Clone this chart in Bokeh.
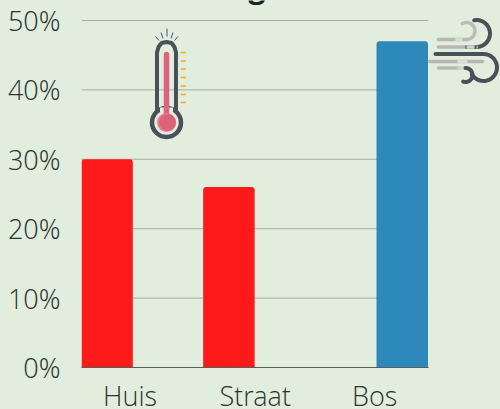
from bokeh.plotting import figure
from bokeh.embed import file_html
from bokeh.resources import INLINE
from bokeh.models import FixedTicker, ColumnDataSource, Range1d
from bokeh.transform import dodge
from bokeh.core.properties import value
import numpy as np

categories = ["Huis", "Straat", "Bos"]
label_positions = [-0.022, 1.005, 1.985]
red_values = [30, 26, None]
blue_values = [None, None, 47]
y_ticks = [0, 10, 20, 30, 40, 50]
y_labels = ["0%", "10%", "20%", "30%", "40%", "50%"]

BG = "#e1eedd"
RED = "#ff1a1a"
BLUE = "#2d89b9"
DARK = "#4a5058"
FONT = "Open Sans Light"

W, H = 500, 409
LEFT, BOTTOM_PX = 81, 367
per10 = 69.4
spacing = 121.85
cx0 = 132.3
bar_px = 51.5

x_start = (LEFT - cx0) / spacing
x_end = (W - cx0) / spacing
x_last = (427.7 - cx0) / spacing
y_start = 0
y_end = BOTTOM_PX / per10 * 10

p = figure(width=W, height=H, frame_width=W - LEFT, frame_height=BOTTOM_PX,
           output_backend="svg", toolbar_location=None,
           x_range=Range1d(x_start, x_end), y_range=Range1d(y_start, y_end),
           min_border_left=LEFT, min_border_right=0, min_border_top=0,
           min_border_bottom=0, outline_line_color=None,
           background_fill_color=BG, border_fill_color=BG)

p.xgrid.visible = False
p.ygrid.visible = False
xa = p.xaxis[0]
xa.ticker = FixedTicker(ticks=label_positions)
xa.major_label_overrides = dict(zip(label_positions, categories))
xa.bounds = (x_start, x_last)
xa.axis_line_color = "#55605a"
xa.axis_line_width = 1
xa.major_tick_line_color = None
xa.minor_tick_line_color = None
xa.major_tick_out = 0
xa.minor_tick_out = 0
xa.major_label_text_font = FONT
xa.major_label_text_font_size = "27px"
xa.major_label_text_color = "#2f3330"
xa.major_label_standoff = 9

ya = p.yaxis[0]
ya.ticker = FixedTicker(ticks=y_ticks)
ya.major_label_overrides = dict(zip(y_ticks, y_labels))
ya.axis_line_color = None
ya.major_tick_line_color = None
ya.minor_tick_line_color = None
ya.major_tick_out = 0
ya.minor_tick_out = 0
ya.major_label_text_font = FONT
ya.major_label_text_font_size = "27px"
ya.major_label_text_color = "#2f3330"
ya.major_label_standoff = 21

p.segment(x0=[x_start] * 5, x1=[x_last] * 5, y0=y_ticks[1:], y1=y_ticks[1:],
          line_color="#a3aea0", line_width=1)

src = ColumnDataSource(dict(x=[0, 1, 2],
                            red=[np.nan if v is None else v for v in red_values],
                            blue=[np.nan if v is None else v for v in blue_values]))
bw = bar_px / spacing
p.vbar(x=dodge("x", -bw / 2, range=p.x_range), top="red", width=bw, source=src,
       fill_color=RED, line_color=None, border_radius=(3, 3, 0, 0))
p.vbar(x=dodge("x", bw / 2, range=p.x_range), top="blue", width=bw, source=src,
       fill_color=BLUE, line_color=None, border_radius=(3, 3, 0, 0))

def X(px):
    return [(v - cx0) / spacing for v in px]
def Y(py):
    return [(BOTTOM_PX - v) / per10 * 10 for v in py]

# descender of the cut-off title
p.text(x=X([256.5]), y=Y([-14]), text=["g"], text_font=value("Open Sans"), text_font_style="bold",
       text_font_size="30px", text_align="center", text_baseline="alphabetic", text_color="#222222")

# thermometer
ax = X([156.5, 156.5, 158, 161, 166, 171, 174, 175.5, 175.5])
ay = Y([110, 52, 46.5, 42.5, 41.5, 42.5, 46.5, 52, 110])
p.circle(X([166]), Y([122]), radius=14.5 / spacing, fill_color=BG, line_color=DARK, line_width=4.5)
p.line(X([159.5, 172.5]), Y([111, 111]), line_width=8, line_color=BG)
p.line(ax, ay, line_width=4, line_color=DARK)
p.line(X([166, 166]), Y([54, 116]), line_width=5.5, line_color="#e0627a", line_cap="round")
p.circle(X([166]), Y([122]), radius=9.5 / spacing, fill_color="#f07d96", line_color=None)
p.circle(X([167]), Y([122]), radius=8.5 / spacing, fill_color="#dc6278", line_color=None)
for yy in [52, 60.5, 68.5, 77, 85.5, 94, 102]:
    p.line(X([180, 185.5]), Y([yy, yy]), line_color="#fba92a", line_width=1.5)
for x0, y0, x1, y1 in [(166.5, 28, 166.5, 36), (160.5, 32, 162.5, 38), (172.5, 32, 170.5, 38),
                       (155, 36, 158.5, 40), (177.5, 36, 174, 40)]:
    p.line(X([x0, x1]), Y([y0, y1]), line_color="#3c5088", line_width=1)

# wind icon
GREY = "#b9b7b4"
def curve(cx, cy, r, a0, a1, n=24):
    t = np.radians(np.linspace(a0, a1, n))
    return list(cx + r * np.cos(t)), list(cy - r * np.sin(t))

xs, ys = curve(466, 30.5, 8.5, 120, -90)
p.line(X(xs), Y(ys), line_color="#bdbbb8", line_width=3.5, line_cap="round")
p.line(X([438, 466]), Y([39, 39]), line_color=GREY, line_width=3.5, line_cap="round")
p.line(X([455, 462]), Y([39, 39]), line_color="#d9d9d6", line_width=3.5)
xs, ys = curve(476, 33, 13.5, 100, -90)
p.line(X(xs), Y(ys), line_color=DARK, line_width=4, line_cap="round")
p.line(X([438, 476]), Y([46.5, 46.5]), line_color=GREY, line_width=3.5, line_cap="round")
p.line(X([465, 476]), Y([46.5, 46.5]), line_color=DARK, line_width=3.5)
p.line(X([466, 474]), Y([46.5, 46.5]), line_color="#d4d3d0", line_width=3.5)
p.line(X([435, 483]), Y([53.5, 53.5]), line_color=DARK, line_width=4, line_cap="round")
xs, ys = curve(483, 67, 13.5, 90, -150)
p.line(X(xs), Y(ys), line_color=DARK, line_width=4, line_cap="round")
p.line(X([429, 482]), Y([61, 61]), line_color=GREY, line_width=3.5, line_cap="round")
p.line(X([457, 467]), Y([61, 61]), line_color="#d9d9d6", line_width=3.5)
p.line(X([438, 465]), Y([67.5, 67.5]), line_color=GREY, line_width=3.5, line_cap="round")
p.line(X([457, 465]), Y([67.5, 67.5]), line_color="#d4d3d0", line_width=3.5)
xs, ys = curve(465, 74.5, 7, 90, -110)
p.line(X(xs), Y(ys), line_color=DARK, line_width=4, line_cap="round")

html = file_html(p, INLINE)
html = html.replace("</head>", "<style>html,body{margin:0;padding:0;overflow:hidden;background:#e1eedd}</style></head>", 1)
open("out.html", "w").write(html)
